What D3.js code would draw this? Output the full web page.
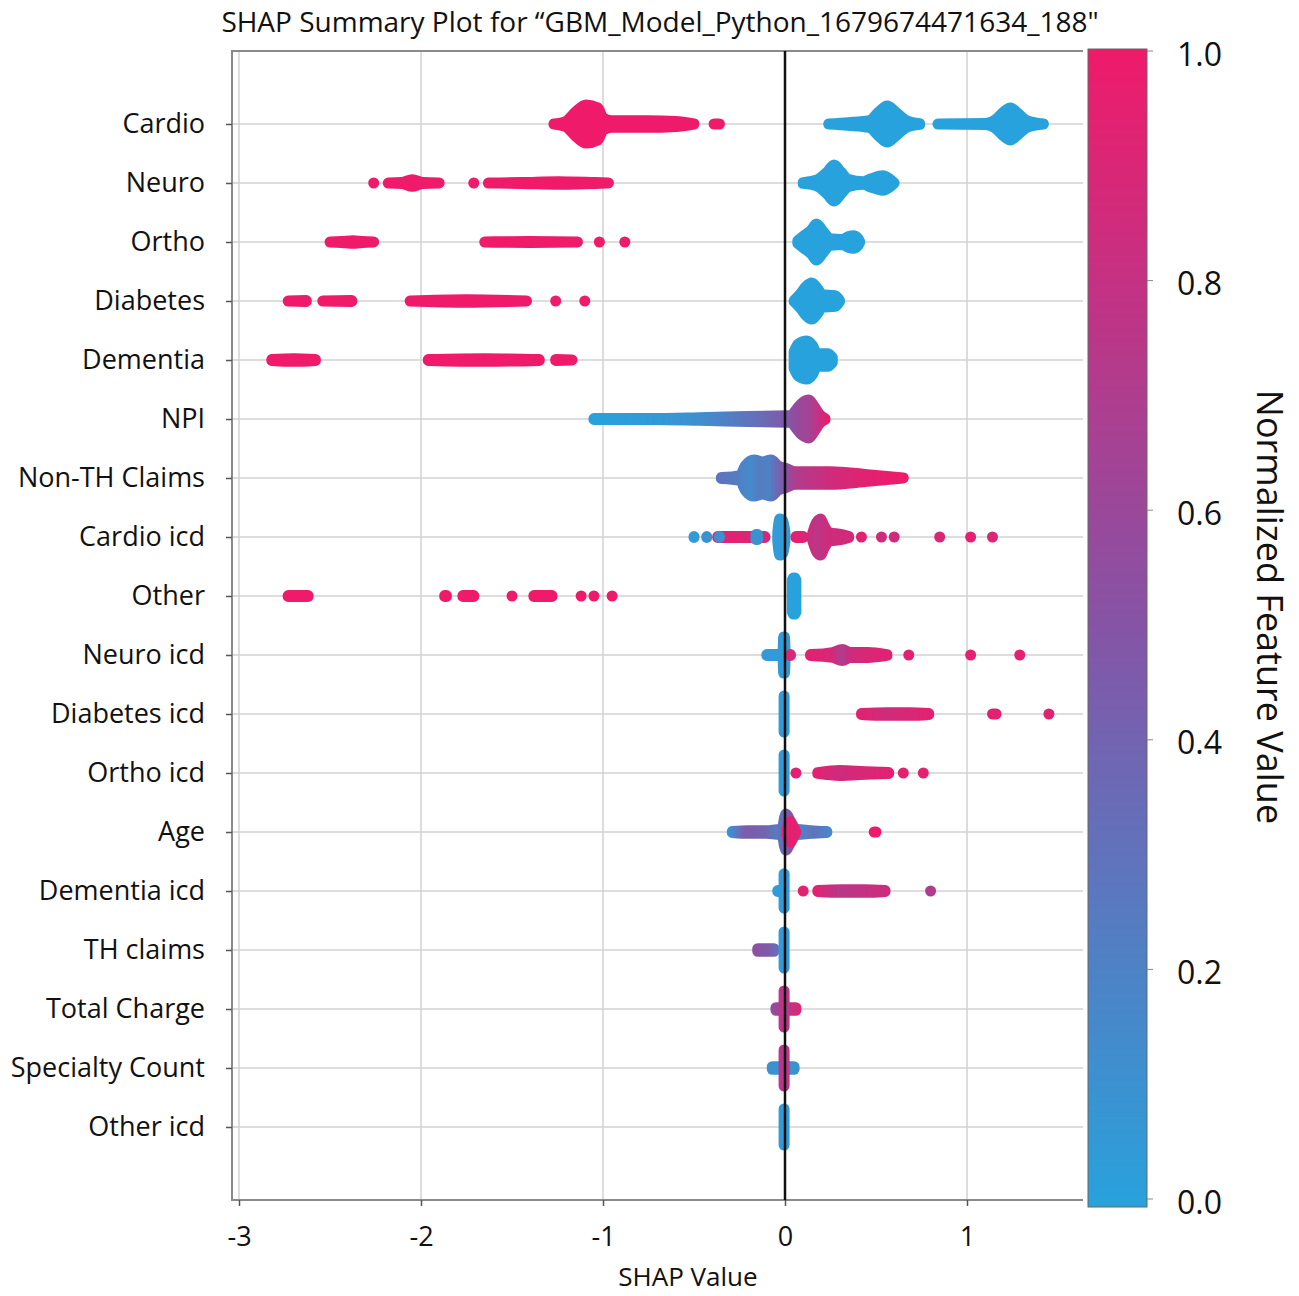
<!DOCTYPE html>
<html>
<head>
<meta charset="utf-8">
<script src="https://cdn.jsdelivr.net/npm/d3@7"></script>
<style>
  body { margin: 0; background: #fff; }
  text { font-family: "Open Sans", sans-serif; fill: #111; }
</style>
</head>
<body>
<svg id="chart" width="1299" height="1296"></svg>
<script>
// feature names, top to bottom
const features = ['Cardio', 'Neuro', 'Ortho', 'Diabetes', 'Dementia', 'NPI', 'Non-TH Claims',
    'Cardio icd', 'Other', 'Neuro icd', 'Diabetes icd', 'Ortho icd', 'Age', 'Dementia icd',
    'TH claims', 'Total Charge', 'Specialty Count', 'Other icd']
const xTicks = [-3, -2, -1, 0, 1]
const cbTicks = [0, 0.2, 0.4, 0.6, 0.8, 1.0]

// each clump of dots: [feature value, [[shap, spread, (feature value)], ...]]
// spread = half height of the clump as a share of half a row
const cardio = [
    [1, [[-1.30, .17], [-1.23, .27], [-1.17, .6], [-1.11, .83], [-1.04, .73], [-1.01, .4], [-0.96, .3], [-0.74, .3], [-0.58, .27], [-0.47, .17]]],
    [1, [[-0.42, .17], [-0.33, .17]]],
    [0, [[0.21, .17], [0.33, .23], [0.46, .3], [0.52, .6], [0.57, .8], [0.62, .6], [0.69, .3], [0.77, .2]]],
    [0, [[0.81, .17], [1.10, .2], [1.16, .33], [1.21, .6], [1.25, .73], [1.29, .57], [1.35, .3], [1.45, .17]]]
]
const neuro = [
    [1, [[-2.26, .17]]],
    [1, [[-2.21, .17], [-2.12, .2], [-2.05, .3], [-1.98, .2], [-1.87, .17]]],
    [1, [[-1.71, .17]]],
    [1, [[-1.66, .17], [-1.46, .2], [-1.24, .23], [-1.02, .2], [-0.94, .17]]],
    [0, [[0.07, .2], [0.16, .3], [0.22, .57], [0.26, .8], [0.30, .57], [0.35, .3], [0.44, .23], [0.49, .33], [0.56, .43], [0.60, .33], [0.63, .17]]]
]
const ortho = [
    [1, [[-2.53, .17], [-2.45, .2], [-2.37, .23], [-2.31, .2], [-2.23, .17]]],
    [1, [[-1.68, .17], [-1.40, .2], [-1.11, .17]]],
    [1, [[-1.05, .17], [-0.99, .17]]],
    [1, [[-0.88, .17]]],
    [0, [[0.04, .23], [0.08, .4], [0.13, .6], [0.16, .8], [0.20, .57], [0.25, .3], [0.33, .27], [0.37, .37], [0.40, .4], [0.43, .3], [0.44, .2]]]
]
const diabetes = [
    [1, [[-2.76, .17], [-2.60, .2]]],
    [1, [[-2.57, .17], [-2.35, .2]]],
    [1, [[-2.09, .17], [-1.75, .23], [-1.39, .17]]],
    [1, [[-1.26, .17]]],
    [1, [[-1.10, .17]]],
    [0, [[0.02, .2], [0.07, .47], [0.10, .67], [0.14, .8], [0.18, .6], [0.21, .4], [0.30, .37], [0.33, .2]]]
]
const dementia = [
    [1, [[-2.85, .2], [-2.70, .23], [-2.55, .2]]],
    [1, [[-1.99, .2], [-1.65, .23], [-1.32, .2]]],
    [1, [[-1.29, .2], [-1.14, .17]]],
    [0, [[0.02, .47], [0.05, .73], [0.11, .83], [0.15, .67], [0.18, .4], [0.26, .4], [0.29, .27]]]
]
const npi = [
    [null, [[-1.08, .2, 0], [-0.74, .2, .05], [-0.47, .23, .12], [-0.19, .27, .3], [0.05, .3, .5]]],
    [null, [[0.02, .4, .5], [0.08, .73, .6], [0.13, .83, .65], [0.17, .6, .75], [0.21, .33, .9], [0.25, .2, 1]]]
]
const nonTh = [
    [null, [[-0.38, .2, .3], [-0.27, .27, .25], [-0.24, .6, .2], [-0.19, .8, .15], [-0.14, .73, .25], [-0.09, .8, .2], [-0.05, .6, .35], [0, .5, .5], [0.05, .4, .7], [0.25, .4, .85], [0.47, .3, .95], [0.68, .17, 1]]]
]
const cardioIcd = [
    [null, [[-0.40, .2, .95], [-0.08, .2, .9]]],
    [0.05, [[-0.50, .2]]],
    [0.1, [[-0.43, .2]]],
    [0.1, [[-0.36, .2]]],
    [0.1, [[-0.19, .27], [-0.12, .27]]],
    [0.05, [[-0.07, .33], [-0.04, .8], [0, .73], [0.03, .33]]],
    [null, [[0.03, .2, .95], [0.13, .2, .9]]],
    [null, [[0.12, .27, .85], [0.15, .67, .8], [0.18, .8, .75], [0.20, .6, .8], [0.24, .33, .85], [0.33, .27, .85], [0.38, .2, .9]]],
    [0.95, [[0.42, .17]]],
    [0.85, [[0.53, .17]]],
    [0.85, [[0.60, .17]]],
    [0.9, [[0.85, .17]]],
    [0.95, [[1.02, .17]]],
    [0.9, [[1.14, .17]]]
]
const other = [
    [1, [[-2.76, .2], [-2.59, .2]]],
    [1, [[-1.90, .2], [-1.83, .2]]],
    [1, [[-1.80, .2], [-1.68, .2]]],
    [1, [[-1.50, .17]]],
    [1, [[-1.41, .2], [-1.25, .2]]],
    [1, [[-1.12, .17]]],
    [1, [[-1.05, .17]]],
    [1, [[-0.95, .17]]],
    [0, [[0.01, .73], [0.03, .8], [0.07, .8], [0.09, .73]]]
]
const neuroIcd = [
    [0.05, [[-0.13, .2], [0.03, .2]]],
    [null, [[-0.04, .4, .05], [-0.02, .8, .05], [0.01, .8, .05], [0.03, .4, .1]]],
    [0.9, [[0.03, .2]]],
    [null, [[0.11, .2, .95], [0.25, .27, .9], [0.31, .37, .7], [0.36, .27, .85], [0.47, .27, .9], [0.59, .2, .95]]],
    [0.95, [[0.68, .17]]],
    [0.95, [[1.02, .17]]],
    [0.95, [[1.29, .17]]]
]
const diabetesIcd = [
    [0.05, [[-0.03, .4], [-0.01, .8], [0.01, .8], [0.02, .4]]],
    [null, [[0.39, .2, .95], [0.55, .23, .85], [0.70, .23, .9], [0.82, .2, .95]]],
    [0.95, [[1.11, .17], [1.19, .17]]],
    [0.95, [[1.45, .17]]]
]
const orthoIcd = [
    [0.05, [[-0.03, .4], [-0.01, .8], [0.01, .8], [0.02, .4]]],
    [0.95, [[0.06, .17]]],
    [null, [[0.15, .2, .95], [0.29, .27, .85], [0.45, .23, .9], [0.60, .2, .95]]],
    [0.95, [[0.65, .17]]],
    [0.95, [[0.73, .17], [0.79, .17]]]
]
const age = [
    [null, [[-0.32, .2, .05], [-0.22, .23, .45], [-0.11, .23, .4], [-0.03, .27, .2], [0.08, .27, .2], [0.16, .23, .3], [0.26, .2, .15]]],
    [null, [[-0.04, .4, .3], [-0.01, .8, .35], [0.03, .6, .5], [0.07, .33, .6], [0.08, .23, .6]]],
    [null, [[-0.02, .27, .9], [0.02, .53, .95], [0.05, .4, .95], [0.09, .2, .9]]],
    [1, [[0.46, .17], [0.53, .17]]]
]
const dementiaIcd = [
    [0.05, [[-0.07, .2], [0, .2]]],
    [0.05, [[-0.03, .4], [-0.01, .77], [0.01, .77], [0.02, .4]]],
    [0.95, [[0.10, .17]]],
    [null, [[0.15, .2, .95], [0.30, .23, .75], [0.45, .23, .8], [0.58, .2, .85]]],
    [0.7, [[0.80, .17]]]
]
const thClaims = [
    [null, [[-0.18, .23, .55], [-0.09, .23, .45], [-0.03, .23, .3]]],
    [0.05, [[-0.03, .4], [-0.01, .8], [0.01, .8], [0.02, .4]]]
]
const totalCharge = [
    [null, [[-0.08, .23, .55], [0, .23, .7], [0.09, .23, .95]]],
    [0.75, [[-0.02, .8], [0.01, .8]]]
]
const specialtyCount = [
    [0.1, [[-0.10, .23], [0.08, .23]]],
    [0.75, [[-0.02, .8], [0.01, .8]]]
]
const otherIcd = [
    [0.05, [[-0.02, .8], [0.01, .8]]]
]

const rows = [cardio, neuro, ortho, diabetes, dementia, npi, nonTh, cardioIcd, other, neuroIcd,
    diabetesIcd, orthoIcd, age, dementiaIcd, thClaims, totalCharge, specialtyCount, otherIcd]

const svg = d3.select('#chart')
const plot = {left: 232, right: 1083, top: 51, bottom: 1200}
const dotR = 5.5

const x = d3.scaleLinear().domain([-3, 1]).range([239, 967])
const y = d3.scaleLinear().domain([0, features.length - 1]).range([124, 1127])
const step = y(1) - y(0)
const spread = d3.scaleLinear().domain([0, 1]).range([0, step / 2])
const color = d3.scaleLinear().domain([0, 0.5, 1]).range(['#28a2dc', '#8554a6', '#ef1a6a'])
const cb = d3.scaleLinear().domain([0, 1]).range([1205, 57])

const defs = svg.append('defs')

// title
svg.append('text')
    .attr('x', 660).attr('y', 32)
    .attr('text-anchor', 'middle')
    .style('font-size', '28px')
    .text('SHAP Summary Plot for \u201CGBM_Model_Python_1679674471634_188"')

// grid
const grid = svg.append('g').attr('stroke', '#d2d2d2').attr('stroke-width', 1.5)
grid.selectAll('.vg').data(xTicks).enter().append('line')
    .attr('x1', d => x(d)).attr('x2', d => x(d))
    .attr('y1', plot.top).attr('y2', plot.bottom)
grid.selectAll('.hg').data(features).enter().append('line')
    .attr('x1', plot.left).attr('x2', plot.right)
    .attr('y1', (d, i) => y(i)).attr('y2', (d, i) => y(i))

// frame
svg.append('path')
    .attr('d', `M${plot.right},${plot.top}H${plot.left}V${plot.bottom}H${plot.right}`)
    .attr('fill', 'none').attr('stroke', '#8a8a8a').attr('stroke-width', 2)

// axes
const xAxis = svg.append('g')
    .attr('transform', `translate(0,${plot.bottom})`)
    .call(d3.axisBottom(x).tickValues(xTicks).tickSize(6).tickPadding(21).tickFormat(d => String(d)))
const yAxis = svg.append('g')
    .attr('transform', `translate(${plot.left},0)`)
    .call(d3.axisLeft(y).tickValues(d3.range(features.length)).tickSize(6).tickPadding(21).tickFormat(i => features[i]))
;[xAxis, yAxis].forEach(a => {
    a.select('.domain').remove()
    a.selectAll('.tick line').attr('stroke', '#555').attr('stroke-width', 1.5)
    a.selectAll('text').style('font-size', '27px').attr('fill', '#111').style('font-family', '"Open Sans", sans-serif')
})

svg.append('text')
    .attr('x', 688).attr('y', 1286)
    .attr('text-anchor', 'middle')
    .style('font-size', '26px')
    .text('SHAP Value')

// dot clumps
const area = d3.area().curve(d3.curveMonotoneX)
    .x(d => d.px).y0(d => d.cy - d.h).y1(d => d.cy + d.h)
let gradId = 0

const marks = svg.append('g')
rows.forEach((segs, row) => {
    const cy = y(row)
    segs.forEach(([f, knots]) => {
        const pts = knots.map(k => ({
            px: x(k[0]),
            cy: cy,
            h: Math.max(0, spread(k[1]) - dotR),
            f: k.length > 2 ? k[2] : f
        }))
        const x0 = pts[0].px, x1 = pts[pts.length - 1].px
        const meanF = d3.mean(pts, p => p.f)
        if (pts.length === 1 || x1 - x0 <= 2 * dotR + 1) {
            // a single dot or a column of dots
            const cx = (x0 + x1) / 2
            const h = d3.max(pts, p => p.h)
            marks.append('line')
                .attr('x1', cx).attr('x2', cx)
                .attr('y1', cy - h).attr('y2', cy + h + 0.01)
                .attr('stroke', color(meanF))
                .attr('stroke-width', 2 * dotR)
                .attr('stroke-linecap', 'round')
            return
        }
        // pull end dots inward so the visible edge sits at the read value
        const inset = d3.scaleLinear().domain([x0, x1]).range([x0 + dotR, x1 - dotR])
        pts.forEach(p => { p.px = inset(p.px) })
        let paint = color(meanF)
        if (knots[0].length > 2) {
            const id = 'g' + (gradId++)
            const g = defs.append('linearGradient').attr('id', id)
                .attr('gradientUnits', 'userSpaceOnUse')
                .attr('x1', x0).attr('x2', x1).attr('y1', 0).attr('y2', 0)
            knots.forEach((k, i) => {
                g.append('stop')
                    .attr('offset', (x(k[0]) - x0) / (x1 - x0))
                    .attr('stop-color', color(k[2]))
            })
            paint = `url(#${id})`
        }
        marks.append('path')
            .attr('d', area(pts))
            .attr('fill', paint)
            .attr('stroke', paint)
            .attr('stroke-width', 2 * dotR)
            .attr('stroke-linejoin', 'round')
            .attr('stroke-linecap', 'round')
    })
})

// zero line
svg.append('line')
    .attr('x1', x(0)).attr('x2', x(0))
    .attr('y1', plot.top).attr('y2', plot.bottom)
    .attr('stroke', '#111').attr('stroke-width', 2.5)

// colour bar
const cbGrad = defs.append('linearGradient').attr('id', 'cbar')
    .attr('x1', 0).attr('x2', 0).attr('y1', 1).attr('y2', 0)
d3.range(0, 1.001, 0.1).forEach(t => {
    cbGrad.append('stop').attr('offset', t).attr('stop-color', color(t))
})
svg.append('rect')
    .attr('x', 1088).attr('y', 49).attr('width', 59).attr('height', 1158)
    .attr('fill', 'url(#cbar)')
    .attr('stroke', '#666').attr('stroke-width', 1)
svg.selectAll('.cbt').data(cbTicks).enter().append('line')
    .attr('x1', 1147).attr('x2', 1153)
    .attr('y1', d => cb(d) - 6).attr('y2', d => cb(d) - 6)
    .attr('stroke', '#888').attr('stroke-width', 1)
svg.selectAll('.cbl').data(cbTicks).enter().append('text')
    .attr('x', 1177).attr('y', d => cb(d))
    .attr('dominant-baseline', 'middle')
    .style('font-size', '32px')
    .text(d => d3.format('.1f')(d))

svg.append('text')
    .attr('transform', 'translate(1257,607) rotate(90)')
    .attr('text-anchor', 'middle')
    .style('font-size', '36px')
    .text('Normalized Feature Value')
</script>
</body>
</html>
